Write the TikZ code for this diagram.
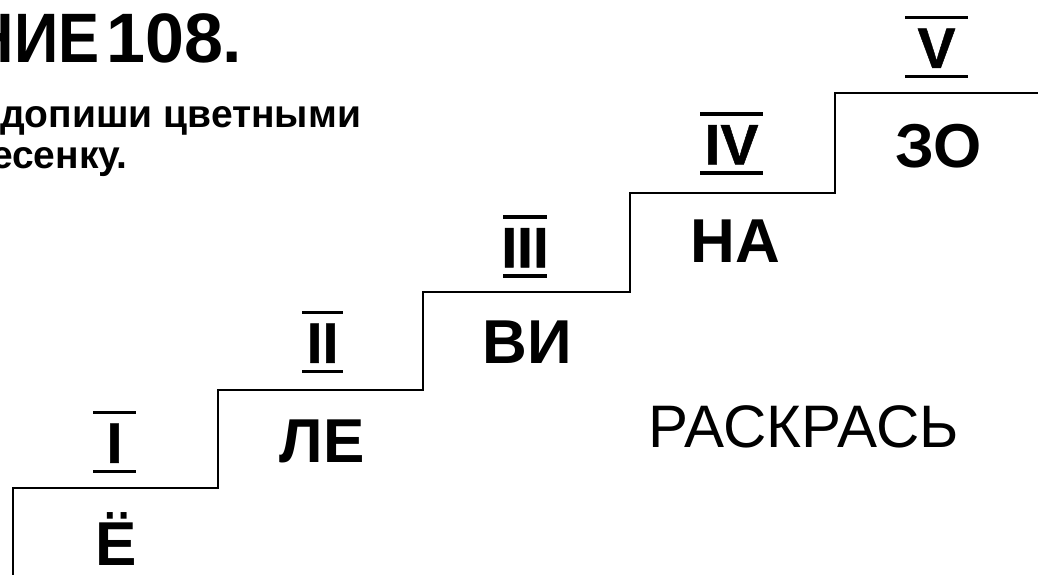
\documentclass[tikz,border=0pt]{standalone}
\usepackage{fontspec}
\setmainfont{Liberation Sans}
\begin{document}
\begin{tikzpicture}[x=1pt,y=-1pt,
  syl/.style={font=\fontsize{62}{62}\selectfont\bfseries, inner sep=0pt, text height=44.4pt, text depth=0pt},
  numeral/.style={font=\fontsize{57}{57}\selectfont\bfseries\addfontfeatures{FakeBold=0.8}, inner sep=0pt, text height=40.8pt, text depth=0pt},
  bar/.style={line width=3.5pt},
  stair/.style={line width=2pt, line join=miter},
  head/.style={font=\fontsize{70}{70}\selectfont\bfseries, inner sep=0pt},
  sub/.style={font=\fontsize{39}{39}\selectfont\bfseries, inner sep=0pt}]
\useasboundingbox (0,0) rectangle (1038,575);
% staircase
\draw[stair] (13,577) -- (13,488) -- (218,488) -- (218,390) -- (423,390) -- (423,292)
  -- (630,292) -- (630,193) -- (835,193) -- (835,93) -- (1040,93);
% heading
\node[head, anchor=base east, font=\fontsize{70}{70}\selectfont\bfseries\addfontfeatures{FakeStretch=0.88}] (title) at (100,63) {НИЕ};
\node[head, anchor=base west] (titlenum) at (106,63) {108.};
\node[sub, anchor=base west] (sub1) at (0,128) {допиши цветными};
\node[sub, anchor=base east] (sub2) at (128,168) {есенку.};
% syllables
\node[syl] (s1) at (116.5,543) {Ё};
\node[syl] (s2) at (322,440.5) {ЛЕ};
\node[syl] (s3) at (527,341.5) {ВИ};
\node[syl] (s4) at (735,240) {НА};
\node[syl] (s5) at (938.5,145) {ЗО};
% numerals
\node[numeral] (n1) at (114.5,442.5) {I};
\node[numeral] (n2) at (322.5,342.5) {II};
\node[numeral] (n3) at (525,247) {III};
\node[numeral] (n4) at (731.5,144) {IV};
\node[numeral] (n5) at (936.5,47.5) {V};
\foreach \n/\w in {n1/43,n2/41,n3/44,n4/63,n5/63}{
  \draw[bar] ([xshift={-0.5*\w*1pt}, yshift=9.5pt]\n.north) -- ([xshift={0.5*\w*1pt}, yshift=9.5pt]\n.north);
  \draw[bar] ([xshift={-0.5*\w*1pt}, yshift=-8.5pt]\n.south) -- ([xshift={0.5*\w*1pt}, yshift=-8.5pt]\n.south);
}
% colouring hint
\node[font=\fontsize{60}{60}\selectfont, inner sep=0pt, text height=43pt, text depth=0pt] (hint) at (804,425.5) {РАСКРАСЬ};
\end{tikzpicture}
\end{document}
